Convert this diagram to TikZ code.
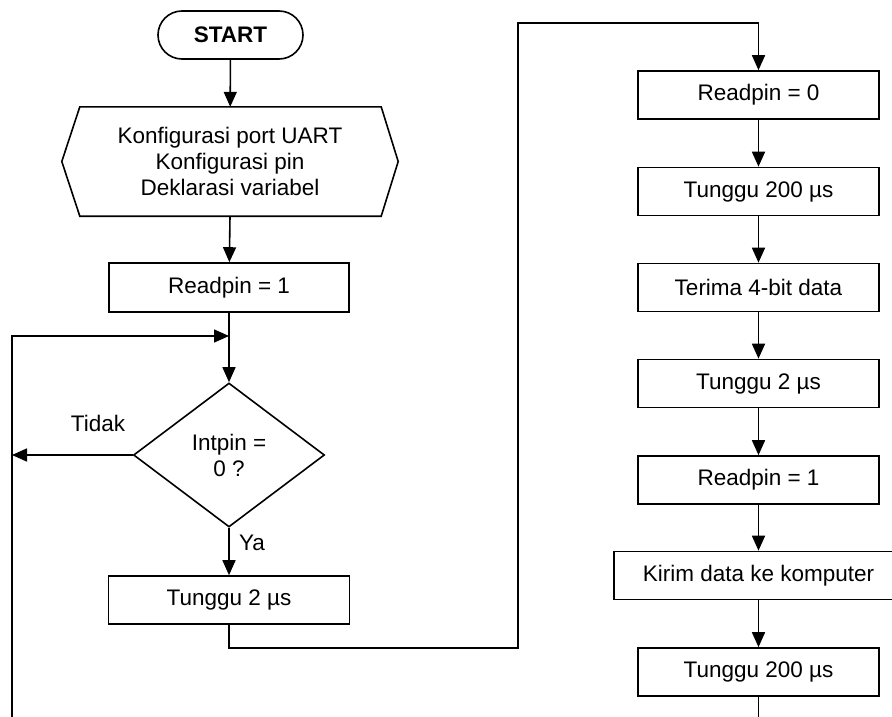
\documentclass[tikz,border=0pt]{standalone}
\usepackage{fontspec}
\setmainfont{Liberation Sans}
\usetikzlibrary{arrows.meta,shapes.geometric,calc}
\begin{document}
\begin{tikzpicture}[x=1pt,y=-1pt,
  every node/.style={font=\fontsize{22.5}{26}\selectfont, inner sep=0pt},
  proc/.style={draw, line width=1.6pt, minimum width=241pt, minimum height=48pt, align=center},
  term/.style={draw, line width=1.6pt, rounded corners=24pt, minimum width=145pt, minimum height=48pt, font=\fontsize{22.5}{26}\selectfont\bfseries},
  dec/.style={draw, line width=1.6pt, diamond, aspect=1.33, minimum width=191pt, minimum height=144pt, align=center},
  ln/.style={line width=1.6pt},
  arr/.style={line width=1.6pt, -{Triangle[length=15pt,width=13pt]}}
]
\useasboundingbox (0,0) rectangle (892,717);
\clip (0,0) rectangle (892,717);

% left column
\node[term] (start) at (230.5,35) {START};
\node[minimum width=336pt, minimum height=109pt, align=center] (prep) at (230,161.5)
  {Konfigurasi port UART\\Konfigurasi pin\\Deklarasi variabel};
\draw[ln] (prep.west) -- ($(prep.north west)+(18,0)$) -- ($(prep.north east)+(-17,0)$)
  -- (prep.east) -- ($(prep.south east)+(-17,0)$) -- ($(prep.south west)+(18,0)$) -- cycle;
\node[proc, minimum width=240pt, minimum height=49pt] (rp1) at (229,287.5) {Readpin = 1};
\coordinate (j) at (229,336);
\node[dec] (cond) at (229,455) {Intpin =\\0 ?};
\node[proc] (tw2) at (229,600) {Tunggu 2 µs};

\node (tidak) at (98,423) {Tidak};
\node (ya) at (252,543) {Ya};

% right column
\node[proc] (rp0) at (758.5,95) {Readpin = 0};
\node[proc] (t200a) at (758.5,191.5) {Tunggu 200 µs};
\node[proc] (terima) at (758.5,287.5) {Terima 4-bit data};
\node[proc] (t2b) at (758.5,383.5) {Tunggu 2 µs};
\node[proc] (rp1b) at (758.5,480) {Readpin = 1};
\node[proc, minimum width=289pt] (kirim) at (758.5,575.5) {Kirim data ke komputer};
\node[proc] (t200b) at (758.5,672) {Tunggu 200 µs};

% routing coordinates
\coordinate (lb) at (12,717);
\coordinate (lt) at (12,336);
\coordinate (lm) at (12,455);
\coordinate (r1) at (229,648);
\coordinate (r2) at (518,648);
\coordinate (r3) at (518,23);
\coordinate (r4) at (758.5,23);
\coordinate (rb) at (758.5,717);

% connectors
\draw[arr] (start) -- (prep);
\draw[arr] (prep.south) -- (rp1);
\draw[arr] (rp1) -- (cond);
\draw[arr] (lb) -- (lt) -- (j);
\draw[arr] (cond.west) -- (lm);
\draw[arr] (cond) -- (tw2);
\draw[arr] (tw2.south) -- (r1) -- (r2) -- (r3) -- (r4) -- (rp0);
\draw[arr] (rp0) -- (t200a);
\draw[arr] (t200a) -- (terima);
\draw[arr] (terima) -- (t2b);
\draw[arr] (t2b) -- (rp1b);
\draw[arr] (rp1b) -- (kirim);
\draw[arr] (kirim) -- (t200b);
\draw[ln] (t200b) -- (rb);
\end{tikzpicture}
\end{document}
